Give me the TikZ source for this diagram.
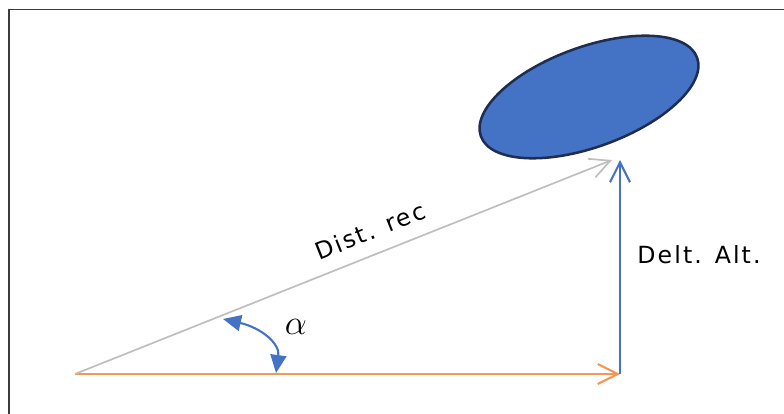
\documentclass[tikz,border=0pt]{standalone}
\usepackage{fontspec}
\usepackage{tikz}
\usetikzlibrary{arrows.meta,shapes.geometric}
\newfontfamily\lblfont[LetterSpace=9]{DejaVu Sans}
\definecolor{dsorange}{RGB}{244,150,86}
\definecolor{dsgray}{RGB}{190,190,190}
\definecolor{dsblue}{RGB}{68,114,196}
\definecolor{dsnavy}{RGB}{30,45,80}
\definecolor{dsframe}{RGB}{60,60,60}

\begin{document}
\begin{tikzpicture}[x=0.025cm, y=0.025cm,
        target/.style={ellipse, draw=dsnavy, line width=1.8pt, fill=dsblue, inner sep=0pt,
          minimum width=5.75cm, minimum height=2.5cm, rotate=20},
        leg/.style={line width=1.5pt, -{Straight Barb[length=5mm, width=5mm]}},
        anglemark/.style={draw=dsblue, line width=1.5pt, {Triangle[length=4.5mm, width=4mm]}-{Triangle[length=4.5mm, width=4mm]}},
        lbl/.style={font=\lblfont\fontsize{16.8}{20}\selectfont, inner sep=0pt}
      ]
      \useasboundingbox (0,0) rectangle (784,414);
      % frame edges of the screenshot
      \draw[dsframe, line width=1.4pt] (9,0) -- (9,404.5) -- (784,404.5);

      \coordinate (origin) at (75,40);
      \coordinate (foot) at (620,40);
      \coordinate (top) at (620,254);
      \coordinate (tip) at (612,254);
      \node[target] (plane) at (589,317) {};

      \draw[leg, draw=dsorange] (origin) -- (foot);
      \draw[leg, draw=dsblue] (foot) -- (top);
      \draw[leg, draw=dsgray, line width=1.2pt] (origin) -- (tip);

      \coordinate (arcA) at (223,95);
      \coordinate (arcB) at (276,41);
      \draw[anglemark] (arcA) .. controls (262,86) and (280,70) .. (arcB);

      \node[lbl, rotate=21.7] (dist) at (370,183) {Dist. rec};
      \node[lbl] (delt) at (699,159) {Delt. Alt.};
      \node[font=\fontsize{24}{28}\selectfont, inner sep=0pt] (alpha) at (296,87) {$\alpha$};
    \end{tikzpicture}
\end{document}
